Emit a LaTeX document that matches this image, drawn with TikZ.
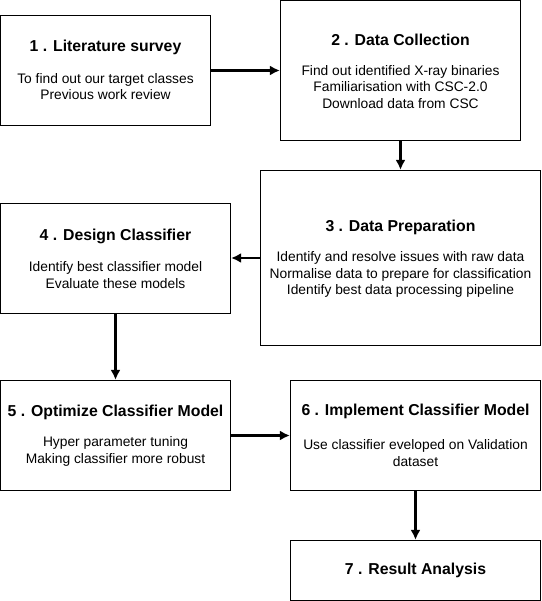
\documentclass[tikz,border=0pt]{standalone}
\usepackage{fontspec}
\setmainfont{Liberation Sans}
\usetikzlibrary{arrows.meta}
\begin{document}
\begin{tikzpicture}[x=1pt,y=-1pt,
  box/.style={draw=black, line width=1.2pt, fill=white, inner sep=0pt, rectangle},
  ttl/.style={font=\fontsize{15.8}{18}\selectfont\bfseries, inner sep=0pt},
  bdy/.style={font=\fontsize{13.8}{16.5}\selectfont, align=center, inner sep=0pt},
  arr/.style={line width=2.2pt, -{Latex[length=10pt,width=10pt]}}]
\useasboundingbox (0,0) rectangle (541,601);
% boxes
\node[box, minimum width=210pt, minimum height=110pt] (b1) at (105.5,70.5) {};
\node[box, minimum width=240pt, minimum height=140pt] (b2) at (400.5,70.5) {};
\node[box, minimum width=280pt, minimum height=175pt] (b3) at (400.5,258) {};
\node[box, minimum width=230pt, minimum height=110pt] (b4) at (115.5,258.5) {};
\node[box, minimum width=230pt, minimum height=110pt] (b5) at (115.5,435.5) {};
\node[box, minimum width=250pt, minimum height=110pt] (b6) at (415.5,435.5) {};
\node[box, minimum width=250pt, minimum height=60pt] (b7) at (415.5,570.5) {};
% texts
\node[ttl] (t1) at (105.5,47) {1 . Literature survey};
\node[bdy] (d1) at (105.5,86.5) {To find out our target classes\\Previous work review};
\node[ttl] (t2) at (400.5,40) {2 . Data Collection};
\node[bdy] (d2) at (400.5,87) {Find out identified X-ray binaries\\Familiarisation with CSC-2.0\\Download data from CSC};
\node[ttl] (t3) at (400.5,227) {3 . Data Preparation};
\node[bdy] (d3) at (400.5,274.5) {Identify and resolve issues with raw data\\Normalise data to prepare for classification\\Identify best data processing pipeline};
\node[ttl] (t4) at (115.5,236) {4 . Design Classifier};
\node[bdy] (d4) at (115.5,275) {Identify best classifier model\\Evaluate these models};
\node[ttl] (t5) at (115.5,412) {5 . Optimize Classifier Model};
\node[bdy] (d5) at (115.5,451.5) {Hyper parameter tuning\\Making classifier more robust};
\node[ttl] (t6) at (415.5,411) {6 . Implement Classifier Model};
\node[bdy] (d6) at (415.5,453) {Use classifier eveloped on Validation\\dataset};
\node[ttl] (t7) at (415.5,570) {7 . Result Analysis};
% connectors
\draw[arr] (b1.east) -- (b2.west |- b1.east);
\draw[arr] (b2.south) -- (b3.north);
\draw[arr] (b3.west) -- (b4.east |- b3.west);
\draw[arr] (b4.south) -- (b5.north);
\draw[arr] (b5.east) -- (b6.west |- b5.east);
\draw[arr] (b6.south) -- (b7.north);
\end{tikzpicture}
\end{document}
